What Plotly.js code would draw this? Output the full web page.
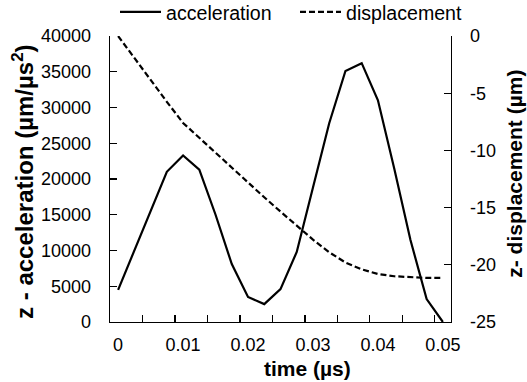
<!DOCTYPE html>
<html>
<head>
<meta charset="utf-8">
<script src="https://cdn.plot.ly/plotly-3.0.1.min.js"></script>
<style>html,body{margin:0;padding:0;background:#fff;}#chart{width:527px;height:382px;}</style>
</head>
<body>
<div id="chart"></div>
<script>
// time (µs) – categories
var time = [0, 0.0025, 0.005, 0.0075, 0.01, 0.0125, 0.015, 0.0175, 0.02, 0.0225,
            0.025, 0.0275, 0.03, 0.0325, 0.035, 0.0375, 0.04, 0.0425, 0.045, 0.0475, 0.05];
// z-acceleration (µm/µs²)
var acceleration = [4500, 10000, 15500, 21000, 23300, 21300, 15000, 8100, 3500, 2500,
                    4600, 9800, 18800, 27800, 35100, 36200, 31000, 21500, 11500, 3200, 0];
// z-displacement (µm)
var displacement = [0, -1.95, -3.85, -5.75, -7.6, -8.9, -10.25, -11.55, -12.85, -14.1,
                    -15.35, -16.6, -17.8, -18.9, -19.8, -20.4, -20.8, -21.0, -21.1, -21.15, -21.15];

var xTickVals = [0, 0.01, 0.02, 0.03, 0.04, 0.05];
var xTickText = ['0', '0.01', '0.02', '0.03', '0.04', '0.05'];
var yTickVals = [0, 5000, 10000, 15000, 20000, 25000, 30000, 35000, 40000];
var yTickText = ['0', '5000', '10000', '15000', '20000', '25000', '30000', '35000', '40000'];
var y2TickVals = [0, -5, -10, -15, -20, -25];
var y2TickText = ['0', '-5', '-10', '-15', '-20', '-25'];

var FONT = 'Liberation Sans, Arial, sans-serif';
var step = time[1] - time[0];
var minorTicks = [];
for (var k = 0; k < time.length; k += 2) minorTicks.push(time[k] + step * 1.5);

var traces = [
  {x: time, y: acceleration, name: 'acceleration', type: 'scatter', mode: 'lines',
   line: {color: '#000', width: 2.2}, yaxis: 'y', legend: 'legend'},
  {x: time, y: displacement, name: 'displacement', type: 'scatter', mode: 'lines',
   line: {color: '#000', width: 2.2, dash: '6px,3px'}, yaxis: 'y2', legend: 'legend2'}
];

var axisCommon = {
  showline: true, linecolor: '#000', linewidth: 1.3, showgrid: false, zeroline: false,
  ticks: 'inside', ticklen: 7, tickwidth: 1.3, tickcolor: '#000',
  tickfont: {family: FONT, size: 18, color: '#000'}, automargin: false
};

var legendCommon = {
  orientation: 'h', xref: 'container', yref: 'container', y: 0.968,
  xanchor: 'left', yanchor: 'middle', font: {family: FONT, size: 19.6, color: '#000'},
  bgcolor: 'rgba(0,0,0,0)', itemwidth: 41
};

var layout = {
  width: 527, height: 382,
  margin: {l: 110, r: 76, t: 36, b: 60, pad: 0, autoexpand: false},
  paper_bgcolor: '#fff', plot_bgcolor: '#fff',
  font: {family: FONT, color: '#000'},
  showlegend: true,
  legend: Object.assign({}, legendCommon, {x: 115 / 527}),
  legend2: Object.assign({}, legendCommon, {x: 295 / 527}),
  xaxis: Object.assign({}, axisCommon, {
    range: [time[0] - step / 2, time[time.length - 1] + step / 2],
    tickmode: 'array', tickvals: xTickVals, ticktext: xTickText, ticks: '',
    ticklabelstandoff: 6,
    minor: {tickmode: 'array', tickvals: minorTicks, ticks: 'inside', ticklen: 7, tickwidth: 1.3, tickcolor: '#000'}
  }),
  yaxis: Object.assign({}, axisCommon, {
    range: [0, 40000], tickmode: 'array', tickvals: yTickVals, ticktext: yTickText,
    ticklabelstandoff: 14
  }),
  yaxis2: Object.assign({}, axisCommon, {
    range: [-25, 0], overlaying: 'y', side: 'right', anchor: 'x',
    tickmode: 'array', tickvals: y2TickVals, ticktext: y2TickText,
    ticklabelstandoff: 14
  }),
  annotations: [
    {text: '<b>time (µs)</b>', xref: 'paper', yref: 'paper', x: 0.58, y: -0.161,
     xanchor: 'center', yanchor: 'middle', showarrow: false, font: {family: FONT, size: 21, color: '#000'}},
    {text: '<b>z - acceleration (µm/µs<sup>2</sup>)</b>', xref: 'paper', yref: 'paper', x: -0.255, y: 0.49,
     xanchor: 'center', yanchor: 'middle', textangle: -90, showarrow: false, font: {family: FONT, size: 24, color: '#000'}},
    {text: '<b>z- displacement (µm)</b>', xref: 'paper', yref: 'paper', x: 1.186, y: 0.52,
     xanchor: 'center', yanchor: 'middle', textangle: -90, showarrow: false, font: {family: FONT, size: 21, color: '#000'}}
  ]
};

Plotly.newPlot('chart', traces, layout, {displayModeBar: false, staticPlot: true});
</script>
</body>
</html>
